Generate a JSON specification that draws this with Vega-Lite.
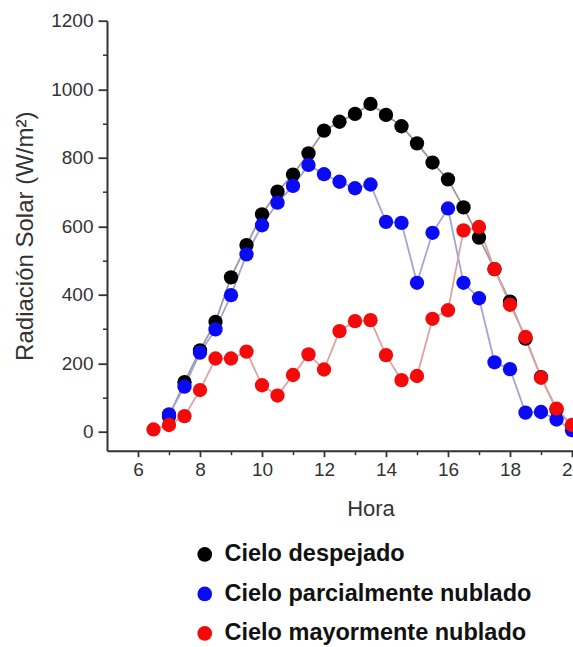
{
  "$schema": "https://vega.github.io/schema/vega-lite/v6.json",
  "width": 466,
  "height": 430,
  "autosize": {"type": "none"},
  "padding": {"left": 107, "top": 20.7, "right": 0, "bottom": 196.3},
  "background": "white",
  "config": {
    "view": {"stroke": null},
    "font": "Liberation Sans",
    "axis": {
      "grid": false,
      "domainColor": "#333333",
      "tickColor": "#333333",
      "labelColor": "#333333",
      "titleColor": "#333333",
      "labelFont": "Liberation Sans",
      "titleFont": "Liberation Sans",
      "titleFontWeight": "normal"
    }
  },
  "data": {
    "values": [
      {"hora": 7.0, "rad": 45, "cielo": "Cielo despejado"},
      {"hora": 7.5, "rad": 145, "cielo": "Cielo despejado"},
      {"hora": 8.0, "rad": 238, "cielo": "Cielo despejado"},
      {"hora": 8.5, "rad": 321, "cielo": "Cielo despejado"},
      {"hora": 9.0, "rad": 451, "cielo": "Cielo despejado"},
      {"hora": 9.5, "rad": 545, "cielo": "Cielo despejado"},
      {"hora": 10.0, "rad": 635, "cielo": "Cielo despejado"},
      {"hora": 10.5, "rad": 701, "cielo": "Cielo despejado"},
      {"hora": 11.0, "rad": 751, "cielo": "Cielo despejado"},
      {"hora": 11.5, "rad": 813, "cielo": "Cielo despejado"},
      {"hora": 12.0, "rad": 879, "cielo": "Cielo despejado"},
      {"hora": 12.5, "rad": 905, "cielo": "Cielo despejado"},
      {"hora": 13.0, "rad": 928, "cielo": "Cielo despejado"},
      {"hora": 13.5, "rad": 957, "cielo": "Cielo despejado"},
      {"hora": 14.0, "rad": 925, "cielo": "Cielo despejado"},
      {"hora": 14.5, "rad": 892, "cielo": "Cielo despejado"},
      {"hora": 15.0, "rad": 842, "cielo": "Cielo despejado"},
      {"hora": 15.5, "rad": 786, "cielo": "Cielo despejado"},
      {"hora": 16.0, "rad": 737, "cielo": "Cielo despejado"},
      {"hora": 16.5, "rad": 655, "cielo": "Cielo despejado"},
      {"hora": 17.0, "rad": 567, "cielo": "Cielo despejado"},
      {"hora": 17.5, "rad": 475, "cielo": "Cielo despejado"},
      {"hora": 18.0, "rad": 380, "cielo": "Cielo despejado"},
      {"hora": 18.5, "rad": 272, "cielo": "Cielo despejado"},
      {"hora": 19.0, "rad": 160, "cielo": "Cielo despejado"},
      {"hora": 19.5, "rad": 65, "cielo": "Cielo despejado"},
      {"hora": 20.0, "rad": 18, "cielo": "Cielo despejado"},

      {"hora": 7.0, "rad": 51, "cielo": "Cielo parcialmente nublado"},
      {"hora": 7.5, "rad": 132, "cielo": "Cielo parcialmente nublado"},
      {"hora": 8.0, "rad": 231, "cielo": "Cielo parcialmente nublado"},
      {"hora": 8.5, "rad": 299, "cielo": "Cielo parcialmente nublado"},
      {"hora": 9.0, "rad": 399, "cielo": "Cielo parcialmente nublado"},
      {"hora": 9.5, "rad": 518, "cielo": "Cielo parcialmente nublado"},
      {"hora": 10.0, "rad": 603, "cielo": "Cielo parcialmente nublado"},
      {"hora": 10.5, "rad": 669, "cielo": "Cielo parcialmente nublado"},
      {"hora": 11.0, "rad": 718, "cielo": "Cielo parcialmente nublado"},
      {"hora": 11.5, "rad": 779, "cielo": "Cielo parcialmente nublado"},
      {"hora": 12.0, "rad": 752, "cielo": "Cielo parcialmente nublado"},
      {"hora": 12.5, "rad": 730, "cielo": "Cielo parcialmente nublado"},
      {"hora": 13.0, "rad": 711, "cielo": "Cielo parcialmente nublado"},
      {"hora": 13.5, "rad": 722, "cielo": "Cielo parcialmente nublado"},
      {"hora": 14.0, "rad": 613, "cielo": "Cielo parcialmente nublado"},
      {"hora": 14.5, "rad": 610, "cielo": "Cielo parcialmente nublado"},
      {"hora": 15.0, "rad": 435, "cielo": "Cielo parcialmente nublado"},
      {"hora": 15.5, "rad": 581, "cielo": "Cielo parcialmente nublado"},
      {"hora": 16.0, "rad": 652, "cielo": "Cielo parcialmente nublado"},
      {"hora": 16.5, "rad": 435, "cielo": "Cielo parcialmente nublado"},
      {"hora": 17.0, "rad": 390, "cielo": "Cielo parcialmente nublado"},
      {"hora": 17.5, "rad": 203, "cielo": "Cielo parcialmente nublado"},
      {"hora": 18.0, "rad": 183, "cielo": "Cielo parcialmente nublado"},
      {"hora": 18.5, "rad": 56, "cielo": "Cielo parcialmente nublado"},
      {"hora": 19.0, "rad": 58, "cielo": "Cielo parcialmente nublado"},
      {"hora": 19.5, "rad": 36, "cielo": "Cielo parcialmente nublado"},
      {"hora": 20.0, "rad": 5, "cielo": "Cielo parcialmente nublado"},

      {"hora": 6.5, "rad": 7, "cielo": "Cielo mayormente nublado"},
      {"hora": 7.0, "rad": 20, "cielo": "Cielo mayormente nublado"},
      {"hora": 7.5, "rad": 46, "cielo": "Cielo mayormente nublado"},
      {"hora": 8.0, "rad": 122, "cielo": "Cielo mayormente nublado"},
      {"hora": 8.5, "rad": 214, "cielo": "Cielo mayormente nublado"},
      {"hora": 9.0, "rad": 214, "cielo": "Cielo mayormente nublado"},
      {"hora": 9.5, "rad": 234, "cielo": "Cielo mayormente nublado"},
      {"hora": 10.0, "rad": 136, "cielo": "Cielo mayormente nublado"},
      {"hora": 10.5, "rad": 106, "cielo": "Cielo mayormente nublado"},
      {"hora": 11.0, "rad": 166, "cielo": "Cielo mayormente nublado"},
      {"hora": 11.5, "rad": 226, "cielo": "Cielo mayormente nublado"},
      {"hora": 12.0, "rad": 182, "cielo": "Cielo mayormente nublado"},
      {"hora": 12.5, "rad": 294, "cielo": "Cielo mayormente nublado"},
      {"hora": 13.0, "rad": 323, "cielo": "Cielo mayormente nublado"},
      {"hora": 13.5, "rad": 326, "cielo": "Cielo mayormente nublado"},
      {"hora": 14.0, "rad": 224, "cielo": "Cielo mayormente nublado"},
      {"hora": 14.5, "rad": 151, "cielo": "Cielo mayormente nublado"},
      {"hora": 15.0, "rad": 163, "cielo": "Cielo mayormente nublado"},
      {"hora": 15.5, "rad": 330, "cielo": "Cielo mayormente nublado"},
      {"hora": 16.0, "rad": 355, "cielo": "Cielo mayormente nublado"},
      {"hora": 16.5, "rad": 588, "cielo": "Cielo mayormente nublado"},
      {"hora": 17.0, "rad": 598, "cielo": "Cielo mayormente nublado"},
      {"hora": 17.5, "rad": 475, "cielo": "Cielo mayormente nublado"},
      {"hora": 18.0, "rad": 371, "cielo": "Cielo mayormente nublado"},
      {"hora": 18.5, "rad": 277, "cielo": "Cielo mayormente nublado"},
      {"hora": 19.0, "rad": 158, "cielo": "Cielo mayormente nublado"},
      {"hora": 19.5, "rad": 68, "cielo": "Cielo mayormente nublado"},
      {"hora": 20.0, "rad": 20, "cielo": "Cielo mayormente nublado"}
    ]
  },
  "layer": [
    {
      "mark": {"type": "line", "strokeWidth": 1.8},
      "encoding": {
        "x": {
          "field": "hora", "type": "quantitative",
          "scale": {"domain": [5, 22], "range": [0, 527], "nice": false, "zero": false},
          "axis": {
            "orient": "bottom", "values": [7, 9, 11, 13, 15, 17, 19, 21],
            "labels": false, "domain": false, "title": null,
            "tickSize": 4, "tickWidth": 1.5
          }
        },
        "y": {
          "field": "rad", "type": "quantitative",
          "scale": {"domain": [-55, 1200], "nice": false, "zero": false},
          "axis": {
            "orient": "left", "values": [100, 300, 500, 700, 900, 1100],
            "labels": false, "domain": false, "title": null,
            "tickSize": 4.5, "tickWidth": 1.5
          }
        },
        "stroke": {
          "field": "cielo", "type": "nominal",
          "scale": {
            "domain": ["Cielo despejado", "Cielo parcialmente nublado", "Cielo mayormente nublado"],
            "range": ["#9a9a9a", "#a3a3d6", "#dba3a3"]
          },
          "legend": null
        }
      }
    },
    {
      "mark": {"type": "point", "filled": true, "size": 205, "opacity": 1},
      "encoding": {
        "x": {
          "field": "hora", "type": "quantitative",
          "axis": {
            "orient": "bottom", "values": [6, 8, 10, 12, 14, 16, 18, 20, 22],
            "title": "Hora", "titleFontSize": 22, "titlePadding": 19,
            "labelFontSize": 19, "labelPadding": 4,
            "tickSize": 6, "tickWidth": 1.8, "domainWidth": 2
          }
        },
        "y": {
          "field": "rad", "type": "quantitative",
          "axis": {
            "orient": "left", "values": [0, 200, 400, 600, 800, 1000, 1200], "format": "d",
            "title": "Radiación Solar (W/m²)", "titleFontSize": 24, "titlePadding": 13,
            "labelFontSize": 19, "labelPadding": 5,
            "tickSize": 9, "tickWidth": 1.8, "domainWidth": 2
          }
        },
        "color": {
          "field": "cielo", "type": "nominal",
          "scale": {
            "domain": ["Cielo despejado", "Cielo parcialmente nublado", "Cielo mayormente nublado"],
            "range": ["#000000", "#0a0af5", "#f50a0a"]
          },
          "legend": {
            "orient": "none", "legendX": 86, "legendY": 522, "title": null,
            "symbolType": "circle", "symbolSize": 215, "symbolOpacity": 1,
            "labelFontSize": 23.5, "labelFontWeight": "bold", "labelColor": "#111111",
            "labelOffset": 8, "rowPadding": 14.5, "labelLimit": 400
          }
        }
      }
    }
  ],
  "resolve": {
    "axis": {"x": "independent", "y": "independent"},
    "legend": {"color": "independent", "stroke": "independent"}
  }
}
